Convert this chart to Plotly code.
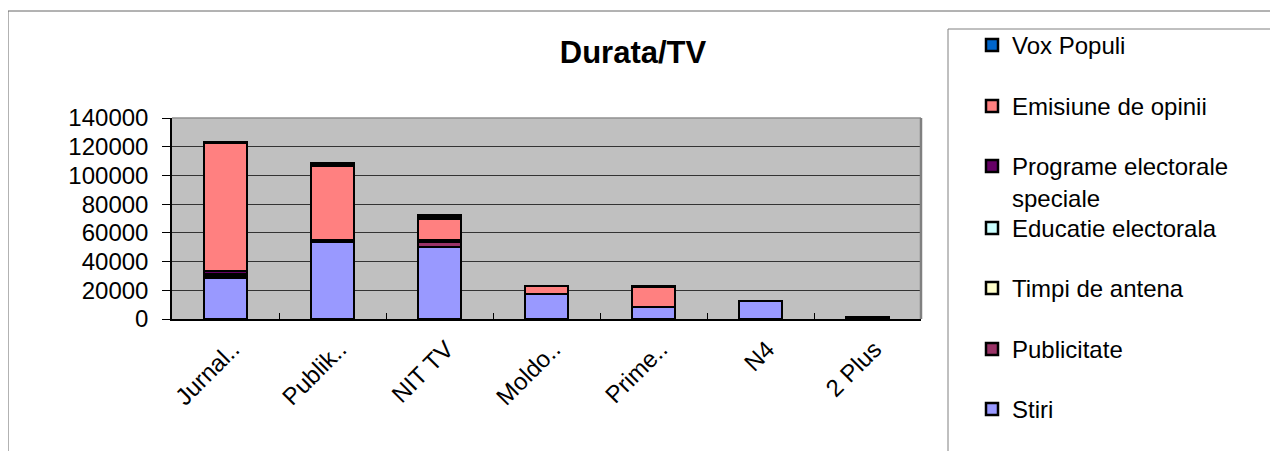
import plotly.graph_objects as go

categories = ["Jurnal..", "Publik..", "NIT TV", "Moldo..", "Prime..", "N4", "2 Plus"]

stiri = [29000, 54000, 50000, 17500, 8500, 12500, 1000]
publicitate = [300, 0, 4000, 0, 0, 0, 0]
timpi_de_antena = [300, 500, 0, 0, 0, 0, 0]
educatie_electorala = [1500, 0, 0, 0, 0, 0, 0]
programe_speciale = [2500, 500, 1000, 0, 0, 0, 300]
emisiune_de_opinii = [89000, 52000, 15000, 5500, 14000, 0, 0]
vox_populi = [500, 1500, 2000, 0, 0, 0, 0]

series_names = ["Stiri", "Publicitate", "Timpi de antena", "Educatie electorala",
                "Programe electorale<br>speciale", "Emisiune de opinii", "Vox Populi"]
series_values = [stiri, publicitate, timpi_de_antena, educatie_electorala,
                 programe_speciale, emisiune_de_opinii, vox_populi]
series_colors = ["#9999FF", "#993366", "#FFFFCC", "#CCFFFF", "#660066", "#FF8080", "#0066CC"]

O = 8  # page body margin
W, H = 1278 - O, 451 - O
# plot area in page pixels
PL, PR, PT, PB = 172, 921, 118, 319
L, R, T, B = PL - O, PR - O, PT - O, PB - O


def px_x(p):
    return (p - PL) / (PR - PL)


def px_y(p):
    return (PB - p) / (PB - PT)


FONT = "Liberation Sans, Arial, sans-serif"

# legend item top pixel positions (page coords, top to bottom)
legend_tops = {"Vox Populi": 23, "Emisiune de opinii": 84, "Programe electorale<br>speciale": 144,
               "Educatie electorala": 206, "Timpi de antena": 266, "Publicitate": 327, "Stiri": 387}

fig = go.Figure()
layout_legends = {}
for i, (name, vals, col) in enumerate(zip(series_names, series_values, series_colors)):
    lname = "legend" if i == 0 else f"legend{i + 1}"
    fig.add_trace(go.Bar(
        x=categories, y=vals, name=name,
        marker=dict(color=col, line=dict(color="black", width=2.5)),
        width=0.4, legend=lname, showlegend=True,
    ))
    layout_legends[lname] = dict(
        x=px_x(972), y=px_y(legend_tops[name]), xanchor="left", yanchor="top",
        xref="paper", yref="paper", visible=True,
        bgcolor="rgba(0,0,0,0)", font=dict(family=FONT, size=24, color="black"),
        valign="top", itemwidth=30,
    )

fig.update_layout(
    barmode="stack",
    showlegend=True,
    width=W, height=H,
    margin=dict(l=L, r=W - R, t=T, b=H - B),
    paper_bgcolor="white",
    plot_bgcolor="#C0C0C0",
    bargap=0.6,
    font=dict(family=FONT, size=24, color="black"),
    title=dict(text="<b>Durata/TV</b>", x=px_x(633), xref="paper", xanchor="center",
               y=1 - (52 - O) / H, yref="container", yanchor="middle",
               font=dict(family=FONT, size=31, color="black")),
    xaxis=dict(type="category", showline=True, linecolor="black", linewidth=1.5,
               ticks="inside", tickson="boundaries", ticklen=6, tickcolor="black",
               tickangle=-45, tickfont=dict(family=FONT, size=24, color="black"),
               ticklabelstandoff=5, ticklabelshift=7,
               showgrid=False),
    yaxis=dict(range=[0, 140000], dtick=20000, tickformat="d",
               showline=True, linecolor="black", linewidth=1.5,
               ticks="outside", ticklen=8, tickcolor="black",
               ticklabelstandoff=9,
               gridcolor="#333333", gridwidth=1, zeroline=False,
               tickfont=dict(family=FONT, size=24, color="black")),
    shapes=[
        dict(type="line", xref="paper", yref="paper", x0=0, x1=1, y0=1, y1=1,
             line=dict(color="#909090", width=1.5)),
        dict(type="line", xref="paper", yref="paper", x0=1, x1=1, y0=0, y1=1,
             line=dict(color="#808080", width=2.5)),
        dict(type="rect", xref="paper", yref="paper", x0=px_x(948), x1=px_x(1271),
             y0=px_y(29), y1=px_y(480), line=dict(color="#808080", width=1)),
        dict(type="rect", xref="paper", yref="paper", x0=px_x(8), x1=px_x(1300),
             y0=px_y(11), y1=px_y(480), line=dict(color="#666666", width=1)),
    ],
    **layout_legends,
)

fig.write_html("out.html")
